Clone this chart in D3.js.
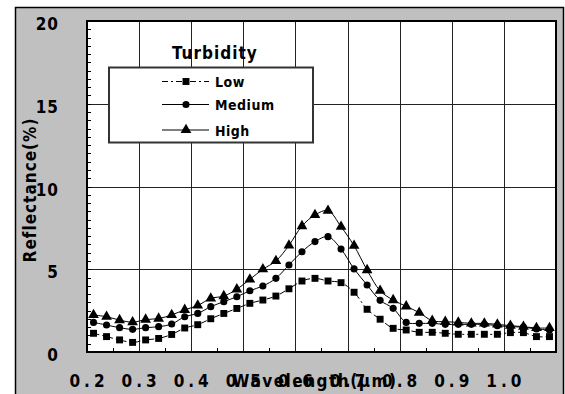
<!DOCTYPE html>
<html>
<head>
<meta charset="utf-8">
<script src="https://cdn.jsdelivr.net/npm/d3@7"></script>
<style>
  body { margin: 0; background: #fff; }
  svg text { font-family: "DejaVu Sans Condensed", "Liberation Sans", sans-serif; font-weight: bold; fill: #000; }
</style>
</head>
<body>
<svg id="chart" width="565" height="394"></svg>
<script>
// wavelength samples (µm)
const wavelengths = [0.2125, 0.2375, 0.2625, 0.2875, 0.3125, 0.3375, 0.3625, 0.3875, 0.4125, 0.4375,
  0.4625, 0.4875, 0.5125, 0.5375, 0.5625, 0.5875, 0.6125, 0.6375, 0.6625, 0.6875,
  0.7125, 0.7375, 0.7625, 0.7875, 0.8125, 0.8375, 0.8625, 0.8875, 0.9125, 0.9375,
  0.9625, 0.9875, 1.0125, 1.0375, 1.0625, 1.0875];

const lowValues = [1.13, 0.93, 0.73, 0.58, 0.73, 0.82, 1.06, 1.45, 1.65, 2.01, 2.33, 2.63, 2.94, 3.14, 3.38, 3.82,
  4.29, 4.45, 4.29, 4.19, 3.61, 2.58, 1.98, 1.43, 1.33, 1.19, 1.19, 1.13, 1.07, 1.07, 1.07, 1.07, 1.17, 1.17, 0.93, 0.93];
const mediumValues = [1.79, 1.63, 1.47, 1.37, 1.47, 1.53, 1.69, 2.13, 2.33, 2.74, 3.04, 3.34, 3.70, 3.99, 4.45, 5.26,
  6.06, 6.67, 6.97, 6.22, 5.02, 4.05, 3.12, 2.64, 1.79, 1.73, 1.73, 1.67, 1.67, 1.67, 1.67, 1.59, 1.53, 1.50, 1.39, 1.33];
const highValues = [2.24, 2.13, 1.93, 1.80, 1.96, 2.02, 2.24, 2.55, 2.81, 3.24, 3.38, 3.79, 4.39, 5.00, 5.50, 6.44,
  7.61, 8.28, 8.54, 7.57, 6.42, 4.95, 3.70, 3.14, 2.76, 2.38, 1.89, 1.83, 1.79, 1.73, 1.73, 1.67, 1.59, 1.53, 1.45, 1.45];

const seriesNames = ['Low', 'Medium', 'High'];
const xTickValues = [0.2, 0.3, 0.4, 0.5, 0.6, 0.7, 0.8, 0.9, 1.0];
const xTickLabels = ['0.2', '0.3', '0.4', '0.5', '0.6', '0.7', '0.8', '0.9', '1.0'];
const yTickValues = [0, 5, 10, 15, 20];

const svg = d3.select('#chart');

// outer gray frame
svg.append('rect')
  .attr('x', 15.5).attr('y', 7.5)
  .attr('width', 548).attr('height', 400)
  .attr('fill', '#c0c0c0')
  .attr('stroke', '#000')
  .attr('stroke-width', 1.5);

const margin = { left: 87, top: 21, right: 556, bottom: 352 };

const x = d3.scaleLinear().domain([0.2, 1.1]).range([margin.left, margin.right]);
const y = d3.scaleLinear().domain([0, 20]).range([margin.bottom, margin.top]);

const g = svg.append('g');

g.append('rect')
  .attr('x', margin.left).attr('y', margin.top)
  .attr('width', margin.right - margin.left)
  .attr('height', margin.bottom - margin.top)
  .attr('fill', '#fff');

// grid
g.append('g')
  .selectAll('line')
  .data(xTickValues.slice(1))
  .enter().append('line')
  .attr('x1', d => Math.round(x(d)) + 0.5).attr('x2', d => Math.round(x(d)) + 0.5)
  .attr('y1', margin.top).attr('y2', margin.bottom)
  .attr('stroke', '#222').attr('stroke-width', 1);

g.append('g')
  .selectAll('line')
  .data(yTickValues.slice(1, -1))
  .enter().append('line')
  .attr('x1', margin.left).attr('x2', margin.right)
  .attr('y1', d => Math.round(y(d)) + 0.5).attr('y2', d => Math.round(y(d)) + 0.5)
  .attr('stroke', '#222').attr('stroke-width', 1);

// minor ticks
g.append('g')
  .selectAll('line')
  .data(d3.range(0.5, 20, 0.5))
  .enter().append('line')
  .attr('x1', margin.left).attr('x2', margin.left + 4)
  .attr('y1', d => Math.round(y(d)) + 0.5).attr('y2', d => Math.round(y(d)) + 0.5)
  .attr('stroke', '#000');

g.append('g')
  .selectAll('line')
  .data(d3.range(0.25, 1.1, 0.1))
  .enter().append('line')
  .attr('x1', d => Math.round(x(d)) + 0.5).attr('x2', d => Math.round(x(d)) + 0.5)
  .attr('y1', margin.bottom).attr('y2', margin.bottom - 4)
  .attr('stroke', '#000');

// plot border
g.append('rect')
  .attr('x', margin.left).attr('y', margin.top)
  .attr('width', margin.right - margin.left)
  .attr('height', margin.bottom - margin.top)
  .attr('fill', 'none')
  .attr('stroke', '#000')
  .attr('stroke-width', 2);

// axis labels
svg.append('g')
  .selectAll('text')
  .data(yTickValues)
  .enter().append('text')
  .attr('x', 59)
  .attr('y', d => y(d) + 9)
  .attr('text-anchor', 'end')
  .style('font-size', '17px')
  .style('letter-spacing', '1px')
  .text(d => d);

svg.append('g')
  .selectAll('text')
  .data(xTickValues)
  .enter().append('text')
  .attr('x', d => x(d) + 2)
  .attr('y', 387)
  .attr('text-anchor', 'middle')
  .style('font-size', '17px')
  .style('letter-spacing', '4px')
  .text((d, i) => xTickLabels[i]);

svg.append('text')
  .attr('x', 315)
  .attr('y', 387)
  .attr('text-anchor', 'middle')
  .style('font-size', '17px')
  .style('letter-spacing', '1.5px')
  .text('Wavelength(μm)');

svg.append('text')
  .attr('transform', 'translate(36,190) rotate(-90)')
  .attr('text-anchor', 'middle')
  .style('font-size', '17px')
  .style('letter-spacing', '1px')
  .text('Reflectance(%)');

// series
const series = [
  { name: 'Low', values: lowValues, symbol: d3.symbolSquare, size: 48, dash: '6,3,2,3' },
  { name: 'Medium', values: mediumValues, symbol: d3.symbolCircle, size: 40, dash: null },
  { name: 'High', values: highValues, symbol: d3.symbolTriangle, size: 50, dash: null }
];

const line = d3.line()
  .x((d, i) => x(wavelengths[i]))
  .y(d => y(d))
  .curve(d3.curveCatmullRom);

series.forEach(s => {
  g.append('path')
    .datum(s.values)
    .attr('d', line)
    .attr('fill', 'none')
    .attr('stroke', '#000')
    .attr('stroke-width', 1)
    .attr('stroke-dasharray', s.dash);

  g.selectAll('.m-' + s.name)
    .data(s.values)
    .enter().append('path')
    .attr('class', 'm-' + s.name)
    .attr('transform', (d, i) => `translate(${x(wavelengths[i])},${y(d)})`)
    .attr('d', d3.symbol().type(s.symbol).size(s.size))
    .attr('fill', '#000');
});

// legend
svg.append('text')
  .attr('x', 172)
  .attr('y', 59)
  .style('font-size', '17px')
  .style('letter-spacing', '1px')
  .text('Turbidity');

const legend = svg.append('g');
legend.append('rect')
  .attr('x', 109).attr('y', 67.5)
  .attr('width', 204).attr('height', 75)
  .attr('fill', '#fff')
  .attr('stroke', '#333')
  .attr('stroke-width', 2);

const legendY = [81.5, 104.5, 130];
series.forEach((s, i) => {
  const item = legend.append('g').attr('transform', `translate(0,${legendY[i]})`);
  item.append('line')
    .attr('x1', 162).attr('x2', 209)
    .attr('y1', 0).attr('y2', 0)
    .attr('stroke', '#000')
    .attr('stroke-dasharray', s.dash);
  item.append('path')
    .attr('transform', 'translate(186,0)')
    .attr('d', d3.symbol().type(s.symbol).size(s.size))
    .attr('fill', '#000');
  item.append('text')
    .attr('x', 215)
    .attr('y', 5.5)
    .style('font-size', '14px')
    .style('letter-spacing', '0.5px')
    .text(s.name);
});
</script>
</body>
</html>
